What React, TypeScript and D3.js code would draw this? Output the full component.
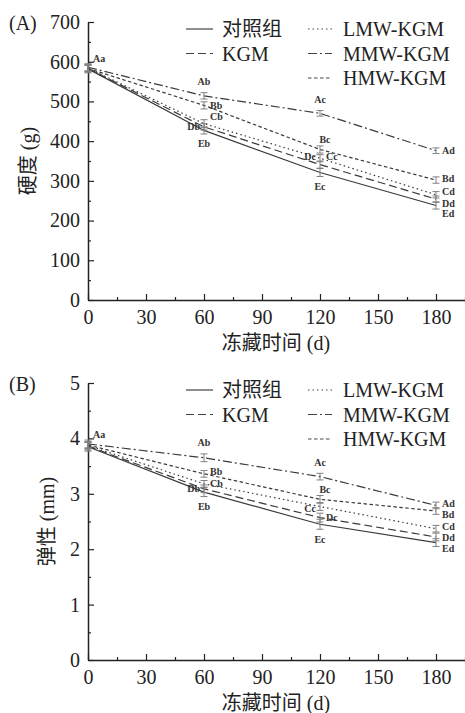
import { useRef, useEffect } from 'react';
import * as d3 from 'd3';

const days = [0, 60, 120, 180];
const seriesNames = ['对照组', 'KGM', 'LMW-KGM', 'MMW-KGM', 'HMW-KGM'];

// (A) hardness, g
const hardControl = [582, 427, 321, 238];
const hardKGM = [583, 436, 341, 254];
const hardLMW = [584, 444, 357, 265];
const hardMMW = [586, 514, 470, 376];
const hardHMW = [583, 490, 379, 302];
const hardErr = [
  [10, 9, 10, 9],
  [9, 8, 9, 8],
  [8, 10, 9, 8],
  [9, 8, 7, 7],
  [8, 9, 9, 8],
];
const hardLetters = [
  ['', 'Eb', 'Ec', 'Ed'],
  ['', 'Db', 'Dc', 'Dd'],
  ['', 'Cb', 'Cc', 'Cd'],
  ['Aa', 'Ab', 'Ac', 'Ad'],
  ['', 'Bb', 'Bc', 'Bd'],
];

// (B) elasticity, mm
const elasControl = [3.85, 3.03, 2.45, 2.12];
const elasKGM = [3.86, 3.09, 2.57, 2.22];
const elasLMW = [3.87, 3.18, 2.77, 2.37];
const elasMMW = [3.9, 3.65, 3.31, 2.79];
const elasHMW = [3.88, 3.36, 2.9, 2.69];
const elasErr = [
  [0.08, 0.08, 0.09, 0.07],
  [0.07, 0.07, 0.08, 0.07],
  [0.06, 0.06, 0.07, 0.06],
  [0.07, 0.07, 0.06, 0.06],
  [0.06, 0.06, 0.07, 0.06],
];
const elasLetters = [
  ['', 'Eb', 'Ec', 'Ed'],
  ['', 'Db', 'Dc', 'Dd'],
  ['', 'Cb', 'Cc', 'Cd'],
  ['Aa', 'Ab', 'Ac', 'Ad'],
  ['', 'Bb', 'Bc', 'Bd'],
];

const xTicks = [0, 30, 60, 90, 120, 150, 180];
const hardTicks = [0, 100, 200, 300, 400, 500, 600, 700];
const elasTicks = [0, 1, 2, 3, 4, 5];

// where each letter sits around its error bar
const hardPlace = [
  ['', 'bottom', 'bottom', 'right+8'],
  ['', 'left', 'left-8', 'right+4'],
  ['', 'right-7', 'right-2', 'right-3'],
  ['corner', 'top', 'top', 'right'],
  ['', 'right', 'upright', 'right-2'],
];
const elasPlace = [
  ['', 'bottom', 'bottom', 'right+6'],
  ['', 'left', 'right', 'right+0'],
  ['', 'right', 'left+2', 'right-2'],
  ['corner', 'top', 'top', 'right-2'],
  ['', 'right-2', 'upright', 'right+4'],
];

const dashes = [null, '8,4', '1.5,3', '9,3,2,3', '3.5,2.5'];
const FONT = '"Liberation Serif", "Noto Sans CJK SC", serif';
const INK = '#222';

const App = () => {
  const svgRef = useRef(null);

  useEffect(() => {
    const svg = d3.select(svgRef.current);
    svg.selectAll('*').remove();

    const left = 88;
    const right = 465;
    const x = d3.scaleLinear().domain([0, 195]).range([left, right]);

    const panels = [
      {
        tag: '(A)', top: 22, bottom: 300, domain: [0, 700], ticks: hardTicks, minor: 50,
        title: '硬度 (g)', titleX: 28,
        values: [hardControl, hardKGM, hardLMW, hardMMW, hardHMW],
        err: hardErr, letters: hardLetters, place: hardPlace,
      },
      {
        tag: '(B)', top: 383, bottom: 660, domain: [0, 5], ticks: elasTicks, minor: 0.5,
        title: '弹性 (mm)', titleX: 47,
        values: [elasControl, elasKGM, elasLMW, elasMMW, elasHMW],
        err: elasErr, letters: elasLetters, place: elasPlace,
      },
    ];

    panels.forEach(p => {
      const y = d3.scaleLinear().domain(p.domain).range([p.bottom, p.top]);
      const g = svg.append('g').attr('font-family', FONT).attr('fill', INK);

      // minor ticks
      const yMinor = d3.range(p.minor, p.domain[1], p.minor * 2);
      const xMinor = d3.range(15, 196, 30);
      g.append('g')
        .attr('transform', `translate(${left},0)`)
        .call(d3.axisLeft(y).tickValues(yMinor).tickSize(-3).tickSizeOuter(0).tickFormat(() => ''))
        .call(a => a.select('.domain').remove());
      g.append('g')
        .attr('transform', `translate(0,${p.bottom})`)
        .call(d3.axisBottom(x).tickValues(xMinor).tickSize(-3).tickSizeOuter(0).tickFormat(() => ''))
        .call(a => a.select('.domain').remove());

      const yAxis = g.append('g')
        .attr('transform', `translate(${left},0)`)
        .call(d3.axisLeft(y).tickValues(p.ticks).tickSize(-6).tickSizeOuter(0).tickPadding(8).tickFormat(d3.format('d')));
      const xAxis = g.append('g')
        .attr('transform', `translate(0,${p.bottom})`)
        .call(d3.axisBottom(x).tickValues(xTicks).tickSize(-6).tickSizeOuter(0).tickPadding(10));

      [yAxis, xAxis].forEach(a => {
        a.attr('font-family', FONT).attr('font-size', 20);
        a.selectAll('text').attr('fill', INK);
        a.selectAll('line').attr('stroke', INK).attr('stroke-width', 1.2);
        a.select('.domain').attr('stroke', INK).attr('stroke-width', 1.5);
      });
      g.selectAll('.tick line').attr('stroke', INK).attr('stroke-width', 1.2);

      g.append('text')
        .attr('x', 9).attr('y', p.top + 8)
        .attr('font-size', 20)
        .text(p.tag);

      g.append('text')
        .attr('transform', `translate(${p.titleX},${(p.top + p.bottom) / 2}) rotate(-90)`)
        .attr('text-anchor', 'middle')
        .attr('dy', '0.35em')
        .attr('font-size', 20)
        .text(p.title);

      g.append('text')
        .attr('x', 276).attr('y', p.bottom + 50)
        .attr('text-anchor', 'middle')
        .attr('font-size', 20)
        .text('冻藏时间 (d)');

      // legend
      const legendRows = [[0, 0], [0, 1], [1, 0], [1, 1], [1, 2]];
      const colX = [186, 308];
      legendRows.forEach(([c, r], i) => {
        const ly = p.top + 7 + r * 24.5;
        g.append('line')
          .attr('x1', colX[c]).attr('x2', colX[c] + (c === 0 ? 27 : 24))
          .attr('y1', ly).attr('y2', ly)
          .attr('stroke', '#444').attr('stroke-width', 1.2)
          .attr('stroke-dasharray', dashes[i]);
        g.append('text')
          .attr('x', c === 0 ? 222 : 343).attr('y', ly + 7)
          .attr('font-size', 20)
          .text(seriesNames[i]);
      });

      const line = d3.line()
        .x((d, i) => x(days[i]))
        .y(d => y(d));

      p.values.forEach((vals, si) => {
        g.append('path')
          .datum(vals)
          .attr('fill', 'none')
          .attr('stroke', '#3a3a3a')
          .attr('stroke-width', 1.2)
          .attr('stroke-dasharray', dashes[si])
          .attr('d', line);
      });

      // error bars and letters
      p.values.forEach((vals, si) => {
        vals.forEach((v, di) => {
          const cx = x(days[di]);
          const e = p.err[si][di];
          const y0 = y(v + e);
          const y1 = y(v - e);
          const eb = g.append('g').attr('stroke', '#808080').attr('stroke-width', 1);
          eb.append('line').attr('x1', cx).attr('x2', cx).attr('y1', y0).attr('y2', y1);
          eb.append('line').attr('x1', cx - 3.5).attr('x2', cx + 3.5).attr('y1', y0).attr('y2', y0);
          eb.append('line').attr('x1', cx - 3.5).attr('x2', cx + 3.5).attr('y1', y1).attr('y2', y1);

          const label = p.letters[si][di];
          if (!label) return;
          const m = p.place[si][di].match(/^([a-z]+)([+-]\d+)?$/);
          const where = m[1];
          const dy = m[2] ? +m[2] : 0;
          let tx = cx, ty = y(v), anchor = 'middle';
          if (where === 'top') ty = y0 - 11;
          else if (where === 'bottom') ty = y1 + 10;
          else if (where === 'right') { tx = cx + 6; anchor = 'start'; }
          else if (where === 'left') { tx = cx - 4; anchor = 'end'; }
          else if (where === 'upright') { tx = cx + 5; ty = y(v) - 9.5; }
          else if (where === 'corner') { tx = cx + 5; ty = y(v) - 9; anchor = 'start'; }
          g.append('text')
            .attr('x', tx).attr('y', ty + dy)
            .attr('dy', '0.35em')
            .attr('text-anchor', anchor)
            .attr('font-size', 10)
            .attr('font-weight', 'bold')
            .attr('fill', '#333')
            .text(label);
        });
      });
    });
  }, []);

  return (
    <svg
      ref={svgRef}
      width="465"
      height="713"
      style={{ position: 'absolute', left: 0, top: 0, background: '#fff' }}
    ></svg>
  );
};

export default App;
